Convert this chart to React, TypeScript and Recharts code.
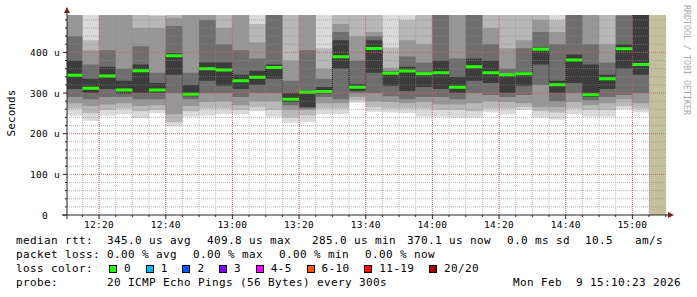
import React from "react";
import {
  ComposedChart,
  Area,
  XAxis,
  YAxis,
  ReferenceLine,
  ReferenceArea,
} from "recharts";

// ---- data (values in microseconds) ----
const graphStart = "12:10:23";
const graphEnd = "15:10:23";

// start of every 300s slot, first one is cut by the graph start
const slots = [
  "12:10:23", "12:15", "12:20", "12:25", "12:30", "12:35", "12:40", "12:45", "12:50",
  "12:55", "13:00", "13:05", "13:10", "13:15", "13:20", "13:25", "13:30", "13:35",
  "13:40", "13:45", "13:50", "13:55", "14:00", "14:05", "14:10", "14:15", "14:20",
  "14:25", "14:30", "14:35", "14:40", "14:45", "14:50", "14:55", "15:00",
];
// slot with no data yet
const pendingSlot = ["15:05", "15:10"];

const median = [
  344, 312, 342, 307.5, 355, 307.5, 392, 297, 360, 357, 330, 339, 363, 285, 302, 304, 389,
  314, 409.8, 348.6, 354, 347.7, 350, 314, 365, 350, 345, 347.7, 407.5, 320.5, 381, 296, 335,
  409, 370.1,
];

// smoke: sorted ping pairs, outermost (lo1/hi1) to innermost (lo5/hi5)
const lo1 = [245, 232, 245, 248, 238, 250, 218, 242, 245, 248, 248, 255, 242, 227, 228, 248, 248, 276, 254, 252, 250, 242, 242, 240, 240, 252, 247, 258, 240, 235, 248, 242, 242, 260, 252];
const lo2 = [262, 250, 258, 262, 255, 258, 228, 255, 262, 262, 258, 265, 258, 240, 245, 262, 262, 282, 265, 262, 262, 262, 258, 258, 255, 262, 262, 265, 255, 252, 262, 258, 258, 268, 262];
const lo3 = [275, 268, 272, 275, 268, 270, 248, 268, 278, 280, 270, 280, 280, 258, 258, 275, 275, 290, 280, 278, 275, 278, 272, 272, 275, 280, 278, 275, 265, 265, 278, 270, 275, 285, 275];
const lo4 = [290, 285, 290, 290, 285, 285, 300, 285, 300, 300, 290, 300, 300, 270, 262, 290, 285, 300, 300, 292, 285, 290, 290, 285, 300, 295, 290, 295, 320, 280, 300, 282, 290, 295, 300];
const lo5 = [310, 300, 310, 298, 300, 300, 345, 292, 330, 318, 310, 320, 335, 278, 265, 298, 360, 305, 350, 318, 305, 315, 310, 300, 330, 325, 300, 318, 370, 300, 325, 290, 310, 360, 345];
const hi5 = [380, 335, 365, 330, 370, 325, 398, 320, 375, 375, 345, 355, 370, 300, 305, 315, 430, 322, 430, 350, 365, 350, 380, 340, 385, 380, 345, 352, 412, 330, 395, 370, 345, 420, 530];
const hi4 = [440, 370, 405, 360, 415, 350, 465, 350, 480, 420, 405, 385, 530, 330, 405, 335, 450, 380, 440, 355, 390, 375, 520, 385, 525, 420, 360, 410, 450, 420, 530, 420, 375, 490, 560];
const hi3 = [530, 405, 500, 540, 460, 460, 485, 530, 495, 460, 510, 425, 560, 380, 540, 360, 470, 440, 450, 362, 430, 420, 560, 530, 560, 460, 410, 430, 480, 450, 560, 540, 420, 510, 600];
const hi2 = [580, 430, 560, 600, 495, 490, 540, 600, 540, 530, 560, 470, 620, 560, 600, 410, 500, 510, 560, 412, 480, 560, 620, 600, 620, 560, 540, 560, 560, 480, 620, 600, 560, 560, 650];
const hi1 = [650, 600, 640, 680, 620, 600, 620, 700, 640, 620, 660, 600, 700, 660, 700, 600, 640, 620, 660, 600, 640, 660, 700, 680, 700, 640, 660, 660, 660, 620, 700, 700, 660, 640, 720];

const xTickLabels = ["12:20", "12:40", "13:00", "13:20", "13:40", "14:00", "14:20", "14:40", "15:00"];
const yTicks = [0, 100, 200, 300, 400];
const yMinorTicks = [20, 40, 60, 80, 100, 120, 140, 160, 180, 200, 220, 240, 260, 280, 300, 320, 340, 360, 380, 400, 420, 440, 460, 480];
const yUnit = "u";

const lossLabels = ["0", "1", "2", "3", "4-5", "6-10", "11-19", "20/20"];
const lossColors = ["#26ff00", "#00b8ff", "#0059ff", "#7e00ff", "#ff00ff", "#ff5500", "#ff0000", "#a10000"];

// ---- layout ----
const W = 697;
const H = 297;
const PLOT_LEFT = 67;
const PLOT_TOP = 15;
const PLOT_H = 200;
const Y_MAX = 492;
const MONO = "'DejaVu Sans Mono', monospace";

const toMin = (s: string) => {
  const [h, m, sec] = s.split(":").map(Number);
  return h * 60 + m + (sec || 0) / 60;
};

const rows: any[] = slots.map((s, i) => ({
  t: toMin(s),
  m: median[i],
  l1: lo1[i], l2: lo2[i], l3: lo3[i], l4: lo4[i], l5: lo5[i],
  h1: hi1[i], h2: hi2[i], h3: hi3[i], h4: hi4[i], h5: hi5[i],
}));
// close the last step
rows.push({ ...rows[rows.length - 1], t: toMin(pendingSlot[0]) });

const layers = [
  { lo: "l1", hi: "h1", fill: "#dadada" },
  { lo: "l2", hi: "h2", fill: "#b8b8b8" },
  { lo: "l3", hi: "h3", fill: "#979797" },
  { lo: "l4", hi: "h4", fill: "#6e6e6e" },
  { lo: "l5", hi: "h5", fill: "#3c3c3c" },
];

const xMinor = [...slots.slice(1), ...pendingSlot].map(toMin);
const xMajor = xTickLabels.map(toMin);
const halfLine = (1.5 * Y_MAX) / PLOT_H;

const MINOR = "rgba(140,140,140,0.6)";
const MAJOR = "rgba(222,79,79,0.6)";

function XTick({ x, payload }: any) {
  const idx = xMajor.findIndex((v) => Math.abs(v - payload.value) < 0.01);
  const major = idx >= 0;
  return (
    <g>
      <line x1={x} x2={x} y1={PLOT_TOP + PLOT_H} y2={PLOT_TOP + PLOT_H + (major ? 4 : 2)} stroke="#222" />
      {major && (
        <text x={x} y={PLOT_TOP + PLOT_H + 9.5} textAnchor="middle" dominantBaseline="central"
          fontFamily={MONO} fontSize={9.5} style={{ letterSpacing: 0.28 }} fill="#000">
          {xTickLabels[idx]}
        </text>
      )}
    </g>
  );
}

function YTick({ y, payload }: any) {
  const v = payload.value;
  const major = yTicks.includes(v);
  return (
    <g>
      <line x1={PLOT_LEFT - (major ? 4 : 2)} x2={PLOT_LEFT} y1={y} y2={y} stroke="#222" />
      {major && (
        <text x={48} y={y} textAnchor="end" dominantBaseline="central" fontFamily={MONO}
          fontSize={9.5} style={{ letterSpacing: 0.28 }} fill="#000">
          {v}
        </text>
      )}
      {major && v !== 0 && (
        <text x={54} y={y} dominantBaseline="central" fontFamily={MONO} fontSize={9.5} fill="#000">
          {yUnit}
        </text>
      )}
    </g>
  );
}

function YDecor({ viewBox }: any) {
  const { x, y, width, height } = viewBox;
  const ax = x + width;
  const cy = y + height / 2 - 2;
  return (
    <g>
      <line x1={ax} x2={ax} y1={y + height + 4} y2={y - 3} stroke="#222" />
      <path d={`M${ax - 3},${y - 2} L${ax + 3},${y - 2} L${ax},${y - 8} Z`} fill="#801f1f" />
      <text x={11} y={cy} transform={`rotate(-90, 11, ${cy})`} textAnchor="middle"
        dominantBaseline="central" fontFamily={MONO} fontSize={11} style={{ letterSpacing: 0.1 }} fill="#000">
        Seconds
      </text>
    </g>
  );
}

function XDecor({ viewBox }: any) {
  const { x, y, width } = viewBox;
  const end = x + width;
  return (
    <g>
      <line x1={x - 5} x2={end + 2} y1={y} y2={y} stroke="#222" />
      <path d={`M${end + 1},${y - 3} L${end + 1},${y + 3} L${end + 7},${y} Z`} fill="#801f1f" />
    </g>
  );
}

const legendText: React.CSSProperties = {
  position: "absolute",
  fontFamily: MONO,
  fontSize: 11,
  letterSpacing: 0.38,
  lineHeight: "14px",
  whiteSpace: "pre",
  color: "#000",
};

function Txt({ x, top, children }: { x: number; top: number; children: React.ReactNode }) {
  return <div style={{ ...legendText, left: x, top }}>{children}</div>;
}

const rttItems = [
  ["median rtt:", 16], ["345.0 us avg", 107], ["409.8 us max", 207], ["285.0 us min", 312],
  ["370.1 us now", 407], ["0.0 ms sd", 507], ["10.5", 585], ["am/s", 635],
] as const;
const lossItems = [
  ["packet loss:", 16], ["0.00 % avg", 107], ["0.00 % max", 193], ["0.00 % min", 279], ["0.00 % now", 365],
] as const;

export default function App() {
  let bx = 109;
  const boxes = lossLabels.map((lab, i) => {
    const pos = bx;
    bx += 29.7 + 7 * lab.length;
    return { lab, color: lossColors[i], x: pos };
  });

  return (
    <div style={{ position: "fixed", left: 0, top: 0, width: W, height: H, background: "#fff", overflow: "hidden" }}>
      <ComposedChart width={W} height={H} data={rows} margin={{ top: PLOT_TOP, right: 30, bottom: 62, left: 0 }}>
        <XAxis
          dataKey="t"
          type="number"
          domain={[toMin(graphStart), toMin(graphEnd)]}
          ticks={xMinor}
          interval={0}
          height={20}
          tick={<XTick />}
          tickLine={false}
          axisLine={false}
          label={{ content: <XDecor /> }}
        />
        <YAxis
          type="number"
          domain={[0, Y_MAX]}
          allowDataOverflow
          ticks={[0, ...yMinorTicks]}
          interval={0}
          width={PLOT_LEFT}
          tick={<YTick />}
          tickLine={false}
          axisLine={false}
          label={{ content: <YDecor /> }}
        />
        {layers.map((L) => (
          <Area
            key={L.lo}
            type="stepAfter"
            dataKey={(d: any) => [d[L.lo], d[L.hi]]}
            fill={L.fill}
            fillOpacity={1}
            stroke="none"
            isAnimationActive={false}
          />
        ))}
        <ReferenceArea
          x1={toMin(pendingSlot[0])}
          x2={toMin(pendingSlot[1])}
          fill="#c3c0a0"
          fillOpacity={1}
          stroke="none"
        />
        {yMinorTicks.map((v) => (
          <ReferenceLine key={"ym" + v} y={v} stroke={MINOR} strokeDasharray="1 1" />
        ))}
        {xMinor.map((v) => (
          <ReferenceLine key={"xm" + v} x={v} stroke={MINOR} strokeDasharray="1 1" />
        ))}
        {yTicks.slice(1).map((v) => (
          <ReferenceLine key={"yM" + v} y={v} stroke={MAJOR} strokeDasharray="1 1" />
        ))}
        {xMajor.map((v) => (
          <ReferenceLine key={"xM" + v} x={v} stroke={MAJOR} strokeDasharray="1 1" />
        ))}
        {/* dotted step connecting the medians */}
        <Area
          type="stepAfter"
          dataKey="m"
          stroke="#000"
          strokeDasharray="1 1"
          strokeWidth={1}
          fill="none"
          dot={false}
          activeDot={false}
          isAnimationActive={false}
        />
        {/* median, loss colour 0 */}
        <Area
          type="stepAfter"
          dataKey={(d: any) => [d.m - halfLine, d.m + halfLine]}
          fill="#26ff00"
          fillOpacity={1}
          stroke="none"
          isAnimationActive={false}
        />
      </ComposedChart>

      <svg width={W} height={H} style={{ position: "absolute", left: 0, top: 0, pointerEvents: "none" }}>
        <text x={687} y={5} transform="rotate(90, 687, 5)" dominantBaseline="central"
          fontFamily={MONO} fontSize={8.3} fill="#aaaaaa">
          RRDTOOL / TOBI OETIKER
        </text>
      </svg>

      {rttItems.map(([t, x]) => (
        <Txt key={t} x={x} top={234}>{t}</Txt>
      ))}
      {lossItems.map(([t, x], i) => (
        <Txt key={t + i} x={x} top={248}>{t}</Txt>
      ))}
      <Txt x={16} top={262}>loss color:</Txt>
      {boxes.map((b) => (
        <React.Fragment key={b.lab}>
          <div style={{ position: "absolute", left: b.x, top: 265, width: 6, height: 6, background: b.color, border: "1px solid #000" }} />
          <Txt x={b.x + 15} top={262}>{b.lab}</Txt>
        </React.Fragment>
      ))}
      <Txt x={16} top={276}>probe:</Txt>
      <Txt x={107} top={276}>20 ICMP Echo Pings (56 Bytes) every 300s</Txt>
      <Txt x={513} top={276}>Mon Feb  9 15:10:23 2026</Txt>
    </div>
  );
}
